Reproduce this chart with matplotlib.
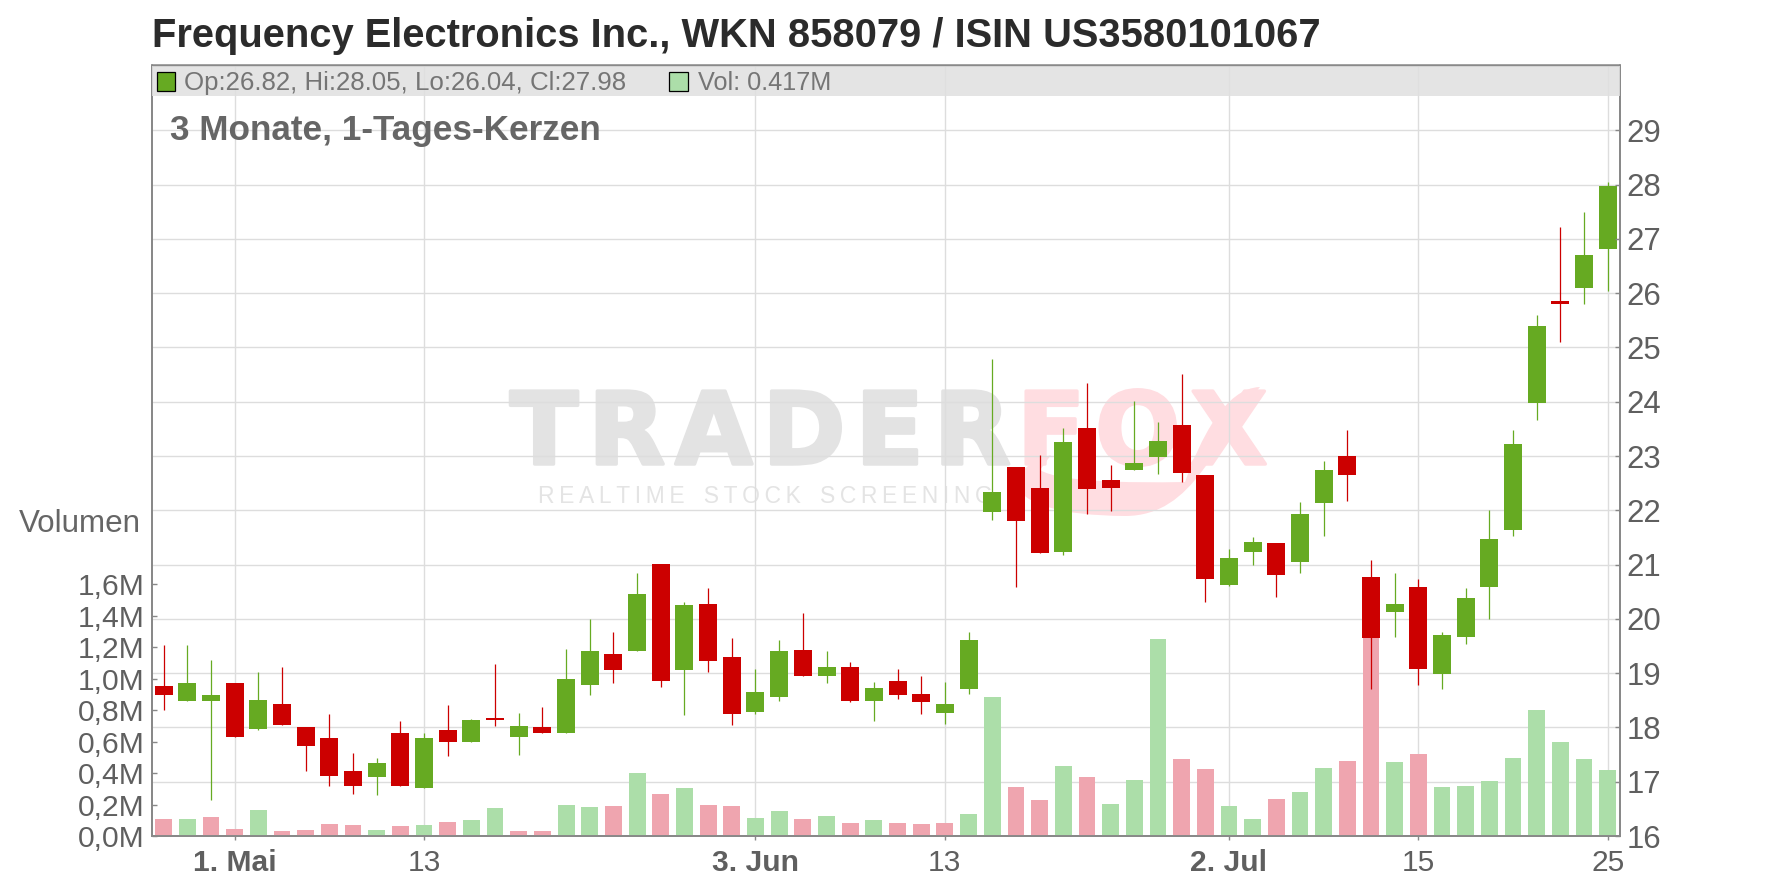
#!/usr/bin/env python3
import matplotlib
matplotlib.use('Agg')
import matplotlib.pyplot as plt
import matplotlib.patheffects as pe
from matplotlib.patches import Rectangle, PathPatch
from matplotlib.path import Path

plt.rcParams['font.family'] = ['Liberation Sans', 'DejaVu Sans']

# ─── Data ─────────────────────────────────────────────────────────────────────

opens = [18.77, 18.49, 18.49, 18.82, 17.98, 18.44, 18.00, 17.81, 17.20, 17.09,
         17.90, 16.89, 17.96, 17.74, 18.18, 17.83, 18.01, 17.90, 18.79, 19.36,
         19.41, 21.02, 19.06, 20.28, 19.29, 18.29, 18.57, 19.43, 18.94, 19.12,
         18.49, 18.86, 18.62, 18.27, 18.71, 21.97, 22.80, 22.41, 21.24, 23.51,
         22.56, 22.75, 22.99, 23.58, 22.65, 20.63, 21.24, 21.40, 21.04, 22.14,
         23.00, 20.78, 20.13, 20.59, 18.99, 19.67, 20.59, 21.64, 23.98, 25.86,
         26.10, 26.82]
highs = [19.51, 19.51, 19.25, 18.82, 19.03, 19.12, 18.00, 18.25, 17.52, 17.44,
         18.12, 17.89, 18.42, 18.16, 19.16, 18.27, 18.38, 19.45, 19.99, 19.76,
         20.85, 21.02, 20.32, 20.56, 19.65, 19.08, 19.62, 20.10, 19.40, 19.21,
         18.84, 19.08, 18.94, 18.84, 19.76, 24.78, 22.80, 23.01, 23.51, 24.34,
         22.84, 24.01, 23.62, 24.52, 22.65, 21.29, 21.50, 21.40, 22.16, 22.91,
         23.48, 21.09, 20.85, 20.74, 19.76, 20.56, 22.01, 23.48, 25.60, 27.22,
         27.50, 28.05]
lows = [18.33, 18.49, 16.67, 17.83, 17.96, 18.05, 17.20, 16.93, 16.78, 16.76,
        16.93, 16.89, 17.48, 17.74, 18.03, 17.50, 17.89, 17.90, 18.59, 18.82,
        19.41, 18.75, 18.22, 19.03, 18.05, 18.24, 18.49, 18.94, 18.82, 18.47,
        18.11, 18.53, 18.24, 18.07, 18.62, 21.82, 20.59, 21.21, 21.18, 21.94,
        21.99, 22.75, 22.67, 22.52, 20.32, 20.60, 21.00, 20.41, 20.85, 21.53,
        22.17, 18.70, 19.67, 18.79, 18.71, 19.54, 19.99, 21.53, 23.66, 25.10,
        25.80, 26.04]
closes = [18.60, 18.82, 18.60, 17.83, 18.51, 18.05, 17.65, 17.11, 16.93, 17.35,
          16.93, 17.81, 17.74, 18.14, 18.14, 18.03, 17.90, 18.90, 19.40, 19.06,
          20.45, 18.86, 20.26, 19.23, 18.25, 18.66, 19.41, 18.94, 19.12, 18.49,
          18.73, 18.60, 18.47, 18.44, 19.62, 22.34, 21.81, 21.21, 23.25, 22.40,
          22.41, 22.88, 23.28, 22.69, 20.74, 21.13, 21.42, 20.81, 21.94, 22.74,
          22.65, 19.64, 20.28, 19.08, 19.71, 20.39, 21.48, 23.22, 25.40, 25.80,
          26.70, 27.98]
volumes = [0.110, 0.110, 0.123, 0.047, 0.167, 0.034, 0.040, 0.078, 0.072, 0.040,
           0.066, 0.072, 0.091, 0.104, 0.180, 0.034, 0.034, 0.199, 0.186, 0.193,
           0.402, 0.269, 0.307, 0.199, 0.193, 0.116, 0.161, 0.110, 0.129, 0.085,
           0.104, 0.085, 0.078, 0.085, 0.142, 0.885, 0.313, 0.231, 0.447, 0.377,
           0.205, 0.358, 1.253, 0.491, 0.428, 0.193, 0.110, 0.237, 0.281, 0.434,
           0.478, 1.350, 0.472, 0.523, 0.313, 0.320, 0.351, 0.497, 0.802, 0.599,
           0.491, 0.417]
# 1 = volume bar green, 0 = volume bar pink
volume_up = [0, 1, 0, 0, 1, 0, 0, 0, 0, 1, 0, 1, 0, 1, 1, 0, 0, 1, 1, 0,
             1, 0, 1, 0, 0, 1, 1, 0, 1, 0, 1, 0, 0, 0, 1, 1, 0, 0, 1, 0,
             1, 1, 1, 0, 0, 1, 1, 0, 1, 1, 0, 0, 1, 0, 1, 1, 1, 1, 1, 1,
             1, 1]

date_ticks = [3, 11, 25, 33, 45, 53, 61]
date_labels = ['1. Mai', '13', '3. Jun', '13', '2. Jul', '15', '25']
month_ticks = ['1. Mai', '3. Jun', '2. Jul']
price_ticks = list(range(16, 30))
volume_ticks = [0.0, 0.2, 0.4, 0.6, 0.8, 1.0, 1.2, 1.4, 1.6]
volume_labels = ['0,0M', '0,2M', '0,4M', '0,6M', '0,8M', '1,0M', '1,2M', '1,4M', '1,6M']

# ─── Style ────────────────────────────────────────────────────────────────────

W, H = 1776, 888
GREEN = '#66aa22'
RED = '#cc0000'
VOL_GREEN = '#acdea9'
VOL_RED = '#efa5af'
TEXT = '#666666'
TICK_TEXT = '#5f5f5f'
AXIS = '#888888'
GRID = '#dddddd'
FS_TICK = 21.6


def fx(x):
    return x / W


def fy(y):
    return 1 - y / H


fig = plt.figure(figsize=(W / 100, H / 100), dpi=100, facecolor='white')
left, right, top, bottom = 151.8, 1619.6, 65.5, 836.0
rect = [fx(left), fy(bottom), (right - left) / W, (bottom - top) / H]

x = list(range(len(opens)))
xlim = (-0.5, 61.5)
price_lim = (16, 16 + (bottom - top) / 54.28)
volume_lim = (0, (bottom - top) / 157.5)

# Three layers: grid and watermark, then volume bars, then candles
ax_grid = fig.add_axes(rect, facecolor='white', zorder=1)
ax_vol = ax_grid.twinx()
ax = ax_grid.twinx()
ax_vol.set_zorder(2)
ax.set_zorder(3)
for a in (ax_vol, ax):
    a.patch.set_visible(False)

ax_grid.set_xlim(xlim)
ax_grid.set_ylim(price_lim)
ax_grid.set_xticks(date_ticks)
ax_grid.set_xticklabels(date_labels, fontsize=FS_TICK, color=TICK_TEXT)
ax_grid.set_yticks(price_ticks)
ax_grid.tick_params(axis='y', left=False, labelleft=False)
ax_grid.tick_params(axis='x', length=3, width=1, color=AXIS, pad=6.6)
ax_grid.grid(True, color=GRID, linewidth=1.0)
for lbl in ax_grid.get_xticklabels():
    if lbl.get_text() in month_ticks:
        lbl.set_fontweight('bold')

# ─── Watermark ────────────────────────────────────────────────────────────────

wm = {'transform': fig.transFigure, 'zorder': 0.5, 'va': 'baseline', 'clip_on': False}
logo = {'fontsize': 72, 'fontweight': 'bold', 'family': 'DejaVu Sans'}
ax_grid.text(fx(510), fy(464), '\u200a'.join('TRADER'), color='#e3e3e3',
             path_effects=[pe.withStroke(linewidth=2.5, foreground='#e3e3e3')], **logo, **wm)
ax_grid.text(fx(1017), fy(464), '\u200a'.join('FOX'), color='#ffdde1',
             path_effects=[pe.withStroke(linewidth=2.5, foreground='#ffdde1')], **logo, **wm)
ax_grid.text(fx(538), fy(503), '\u2009'.join('REALTIME') + '   ' + '\u2009'.join('STOCK') + '   '
             + '\u2009'.join('SCREENING'), fontsize=16.5,
             family=['Liberation Sans', 'DejaVu Sans'], color='#e4e4e4', **wm)
tail = [(1051, 455), (1000, 470), (995, 515), (1125, 516), (1195, 516), (1215, 440), (1260, 387),
        (1225, 388), (1200, 440), (1185, 482), (1125, 483), (1060, 482), (1040, 470), (1051, 455)]
tail_codes = [Path.MOVETO] + [Path.CURVE4] * 12 + [Path.CLOSEPOLY]
ax_grid.add_patch(PathPatch(Path([(fx(a), fy(b)) for a, b in tail], tail_codes),
                            transform=fig.transFigure, facecolor='#ffdde1', edgecolor='none',
                            zorder=0.5, clip_on=False))

# ─── Volume ───────────────────────────────────────────────────────────────────

ax_vol.set_ylim(volume_lim)
ax_vol.bar(x, volumes, width=0.71, linewidth=0,
           color=[VOL_GREEN if up else VOL_RED for up in volume_up])
ax_vol.yaxis.set_label_position('left')
ax_vol.yaxis.tick_left()
ax_vol.set_yticks(volume_ticks)
ax_vol.set_yticklabels(volume_labels, fontsize=FS_TICK, color=TICK_TEXT)
ax_vol.tick_params(axis='y', direction='in', length=3.5, width=1, color=AXIS, pad=4.9)
ax_vol.tick_params(axis='x', bottom=False, labelbottom=False)

# ─── Candles ──────────────────────────────────────────────────────────────────

ax.set_xlim(xlim)
ax.set_ylim(price_lim)
ax.set_yticks(price_ticks)
ax.set_yticklabels([str(p) for p in price_ticks], fontsize=22.4, color=TICK_TEXT)
ax.tick_params(axis='y', direction='in', length=3.5, width=1, color=AXIS, pad=5)
ax.tick_params(axis='x', bottom=False, labelbottom=False)

candle_colors = [GREEN if c > o else RED for o, c in zip(opens, closes)]
ax.vlines(x, lows, highs, colors=candle_colors, linewidth=0.9)
ax.bar(x, [abs(c - o) for o, c in zip(opens, closes)],
       bottom=[min(o, c) for o, c in zip(opens, closes)],
       width=0.76, color=candle_colors, linewidth=0)

for a in (ax_grid, ax_vol, ax):
    for spine in a.spines.values():
        spine.set_color(AXIS)
        spine.set_linewidth(1.1)

# ─── Header strip and texts ───────────────────────────────────────────────────

ax.add_patch(Rectangle((0, (bottom - 95.7) / (bottom - top)), 1, (95.7 - top) / (bottom - top),
                       transform=ax.transAxes, facecolor='#e0e0e0', alpha=0.85,
                       edgecolor='none', zorder=5))
for sx, col in ((156.5, GREEN), (669.0, VOL_GREEN)):
    fig.add_artist(Rectangle((fx(sx), fy(90.7)), 18.5 / W, 18.7 / H, transform=fig.transFigure,
                             facecolor=col, edgecolor='black', linewidth=0.9, zorder=10))

fig.text(fx(152), fy(47), 'Frequency Electronics Inc., WKN 858079 / ISIN US3580101067',
         fontsize=28.75, fontweight='bold', color='#2b2b2b', va='baseline', zorder=10)
fig.text(fx(170), fy(140), '3 Monate, 1-Tages-Kerzen', fontsize=25.3, fontweight='bold',
         color=TEXT, va='baseline', zorder=10)
fig.text(fx(184.5), fy(90), 'Op:26.82, Hi:28.05, Lo:26.04, Cl:27.98', fontsize=18.65,
         color='#757575', va='baseline', zorder=10)
fig.text(fx(697.5), fy(90), 'Vol: 0.417M', fontsize=18.2, color='#757575', va='baseline', zorder=10)
fig.text(fx(18.4), fy(531.7), 'Volumen', fontsize=22.6, color=TEXT, va='baseline', zorder=10)

fig.savefig('out.png', dpi=100)
